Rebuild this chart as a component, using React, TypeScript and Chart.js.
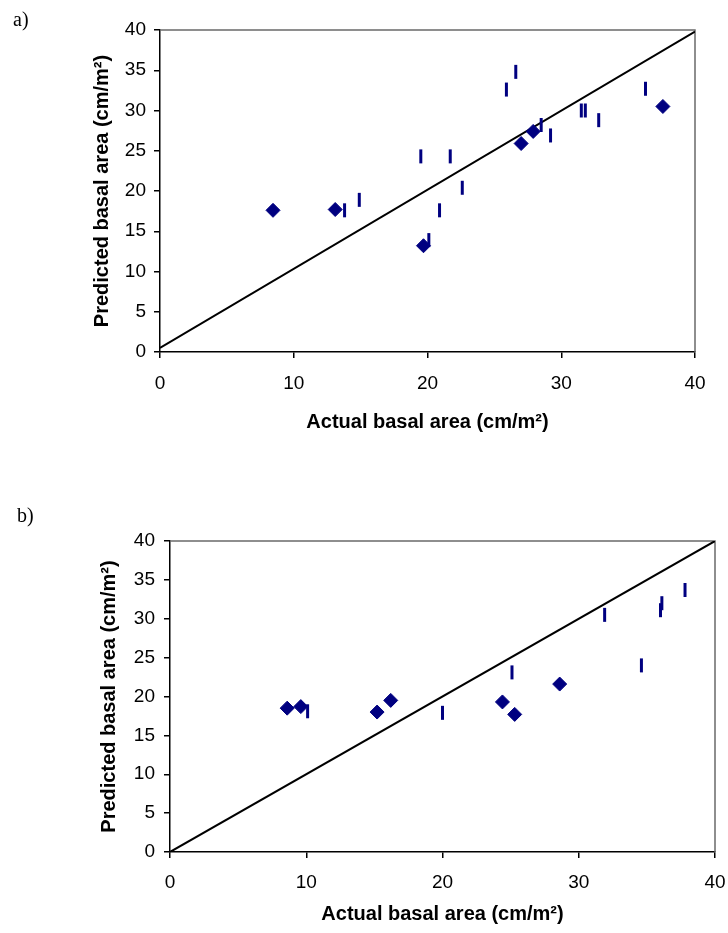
import React, { useEffect, useRef } from 'react';
import { Chart, registerables } from 'chart.js';

Chart.register(...registerables);

// ---------- Data: chart a ----------
const aDiamondX = [8.45, 13.1, 19.7, 27.0, 27.9, 37.6];
const aDiamondY = [17.6, 17.7, 13.2, 25.9, 27.4, 30.5];
const aDashX = [13.8, 14.9, 20.1, 20.9, 22.6, 19.5, 21.7, 25.9, 26.6, 28.5, 29.2, 31.5, 31.8, 32.8, 36.3];
const aDashY = [17.6, 18.9, 13.9, 17.6, 20.4, 24.3, 24.3, 32.6, 34.8, 28.2, 26.9, 30.0, 30.0, 28.8, 32.7];
const aLineX = [0, 40];
const aLineY = [0.5, 39.8];

// ---------- Data: chart b ----------
const bDiamondX = [8.6, 9.6, 15.2, 16.2, 24.4, 25.3, 28.6];
const bDiamondY = [18.5, 18.7, 18.0, 19.5, 19.3, 17.7, 21.6];
const bDashX = [10.1, 20.0, 25.1, 31.9, 34.6, 36.0, 36.1, 37.8];
const bDashY = [18.1, 17.9, 23.1, 30.5, 24.0, 31.1, 32.0, 33.7];
const bLineX = [0, 40];
const bLineY = [0, 40];

// ---------- Axis ----------
const axisMin = 0;
const axisMax = 40;
const xStep = 10;
const yStep = 5;
const xTitle = 'Actual basal area (cm/m²)';
const yTitle = 'Predicted basal area (cm/m²)';

const NAVY = '#000080';
const FONT = "'Liberation Sans', Arial, sans-serif";

const zip = (xs: number[], ys: number[]) => xs.map((x, i) => ({ x, y: ys[i] }));

const framePlugin = {
  id: 'frame',
  beforeDatasetsDraw(chart: any) {
    const { ctx, chartArea } = chart;
    const { left, right, top, bottom } = chartArea;
    ctx.save();
    ctx.strokeStyle = '#6a6a6a';
    ctx.lineWidth = 1.5;
    ctx.beginPath();
    ctx.moveTo(left, top);
    ctx.lineTo(right, top);
    ctx.lineTo(right, bottom);
    ctx.stroke();
    ctx.restore();
  },
};

interface Layout {
  padTop: number;
  padRight: number;
  yWidth: number;
  xHeight: number;
  xTickPad: number;
  yTickPad: number;
  xTitleBottom: number;
  yTitleTop: number;
}

function buildConfig(
  dx: number[], dy: number[], sx: number[], sy: number[], lx: number[], ly: number[], L: Layout
): any {
  return {
    type: 'scatter',
    data: {
      datasets: [
        {
          label: 'diamond',
          data: zip(dx, dy),
          pointStyle: 'rectRot',
          pointRadius: 7,
          backgroundColor: NAVY,
          borderColor: NAVY,
          borderWidth: 1,
          order: 1,
        },
        {
          label: 'dash',
          data: zip(sx, sy),
          pointStyle: 'line',
          pointRotation: 90,
          pointRadius: 7,
          borderColor: NAVY,
          backgroundColor: NAVY,
          borderWidth: 3,
          order: 2,
        },
        {
          label: 'line',
          data: zip(lx, ly),
          showLine: true,
          borderColor: '#000',
          borderWidth: 2,
          pointRadius: 0,
          order: 3,
        },
      ],
    },
    options: {
      responsive: false,
      animation: false,
      devicePixelRatio: 1,
      layout: { padding: { top: L.padTop, right: L.padRight, left: 0, bottom: 0 } },
      plugins: { legend: { display: false }, tooltip: { enabled: false } },
      scales: {
        x: {
          type: 'linear',
          min: axisMin,
          max: axisMax,
          ticks: { stepSize: xStep, color: '#000', font: { family: FONT, size: 19 }, padding: L.xTickPad },
          grid: { drawOnChartArea: false, drawTicks: true, tickLength: 6, color: '#000', lineWidth: 1.5 },
          border: { display: true, color: '#000', width: 1.5 },
          title: {
            display: true,
            text: xTitle,
            color: '#000',
            font: { family: FONT, size: 20, weight: 'bold' },
            padding: { top: 0, bottom: L.xTitleBottom },
          },
          afterFit(s: any) {
            s.height = L.xHeight;
            s.paddingLeft = 0;
            s.paddingRight = 0;
          },
        },
        y: {
          type: 'linear',
          min: axisMin,
          max: axisMax,
          ticks: { stepSize: yStep, color: '#000', font: { family: FONT, size: 19 }, padding: L.yTickPad },
          grid: { drawOnChartArea: false, drawTicks: true, tickLength: 6, color: '#000', lineWidth: 1.5 },
          border: { display: true, color: '#000', width: 1.5 },
          title: {
            display: true,
            text: yTitle,
            color: '#000',
            font: { family: FONT, size: 20, weight: 'bold' },
            padding: { top: L.yTitleTop, bottom: 0 },
          },
          afterFit(s: any) {
            s.width = L.yWidth;
            s.paddingTop = 0;
            s.paddingBottom = 0;
          },
        },
      },
    },
    plugins: [framePlugin],
  };
}

function ChartCanvas({ config, width, height, top }: { config: any; width: number; height: number; top: number }) {
  const ref = useRef<HTMLCanvasElement | null>(null);
  useEffect(() => {
    if (!ref.current) return;
    const chart = new Chart(ref.current, config);
    return () => chart.destroy();
  }, [config]);
  return (
    <canvas
      ref={ref}
      width={width}
      height={height}
      style={{ position: 'absolute', left: 0, top, width, height }}
    />
  );
}

const configA = buildConfig(aDiamondX, aDiamondY, aDashX, aDashY, aLineX, aLineY, {
  padTop: 30,
  padRight: 33,
  yWidth: 160,
  xHeight: 114,
  xTickPad: 14,
  yTickPad: 8,
  xTitleBottom: 32,
  yTitleTop: 90,
});

const configB = buildConfig(bDiamondX, bDiamondY, bDashX, bDashY, bLineX, bLineY, {
  padTop: 75,
  padRight: 13,
  yWidth: 170,
  xHeight: 81,
  xTickPad: 13,
  yTickPad: 9,
  xTitleBottom: 7,
  yTitleTop: 97,
});

const labelStyle: React.CSSProperties = {
  position: 'absolute',
  font: "20px 'Liberation Serif', 'Times New Roman', serif",
  lineHeight: '20px',
  color: '#000',
};

export default function App() {
  return (
    <div style={{ position: 'absolute', left: 0, top: 0, width: 728, height: 933, background: '#fff' }}>
      <ChartCanvas config={configA} width={728} height={466} top={0} />
      <ChartCanvas config={configB} width={728} height={467} top={466} />
      <div style={{ ...labelStyle, left: 13, top: 9 }}>a)</div>
      <div style={{ ...labelStyle, left: 17, top: 505 }}>b)</div>
    </div>
  );
}
